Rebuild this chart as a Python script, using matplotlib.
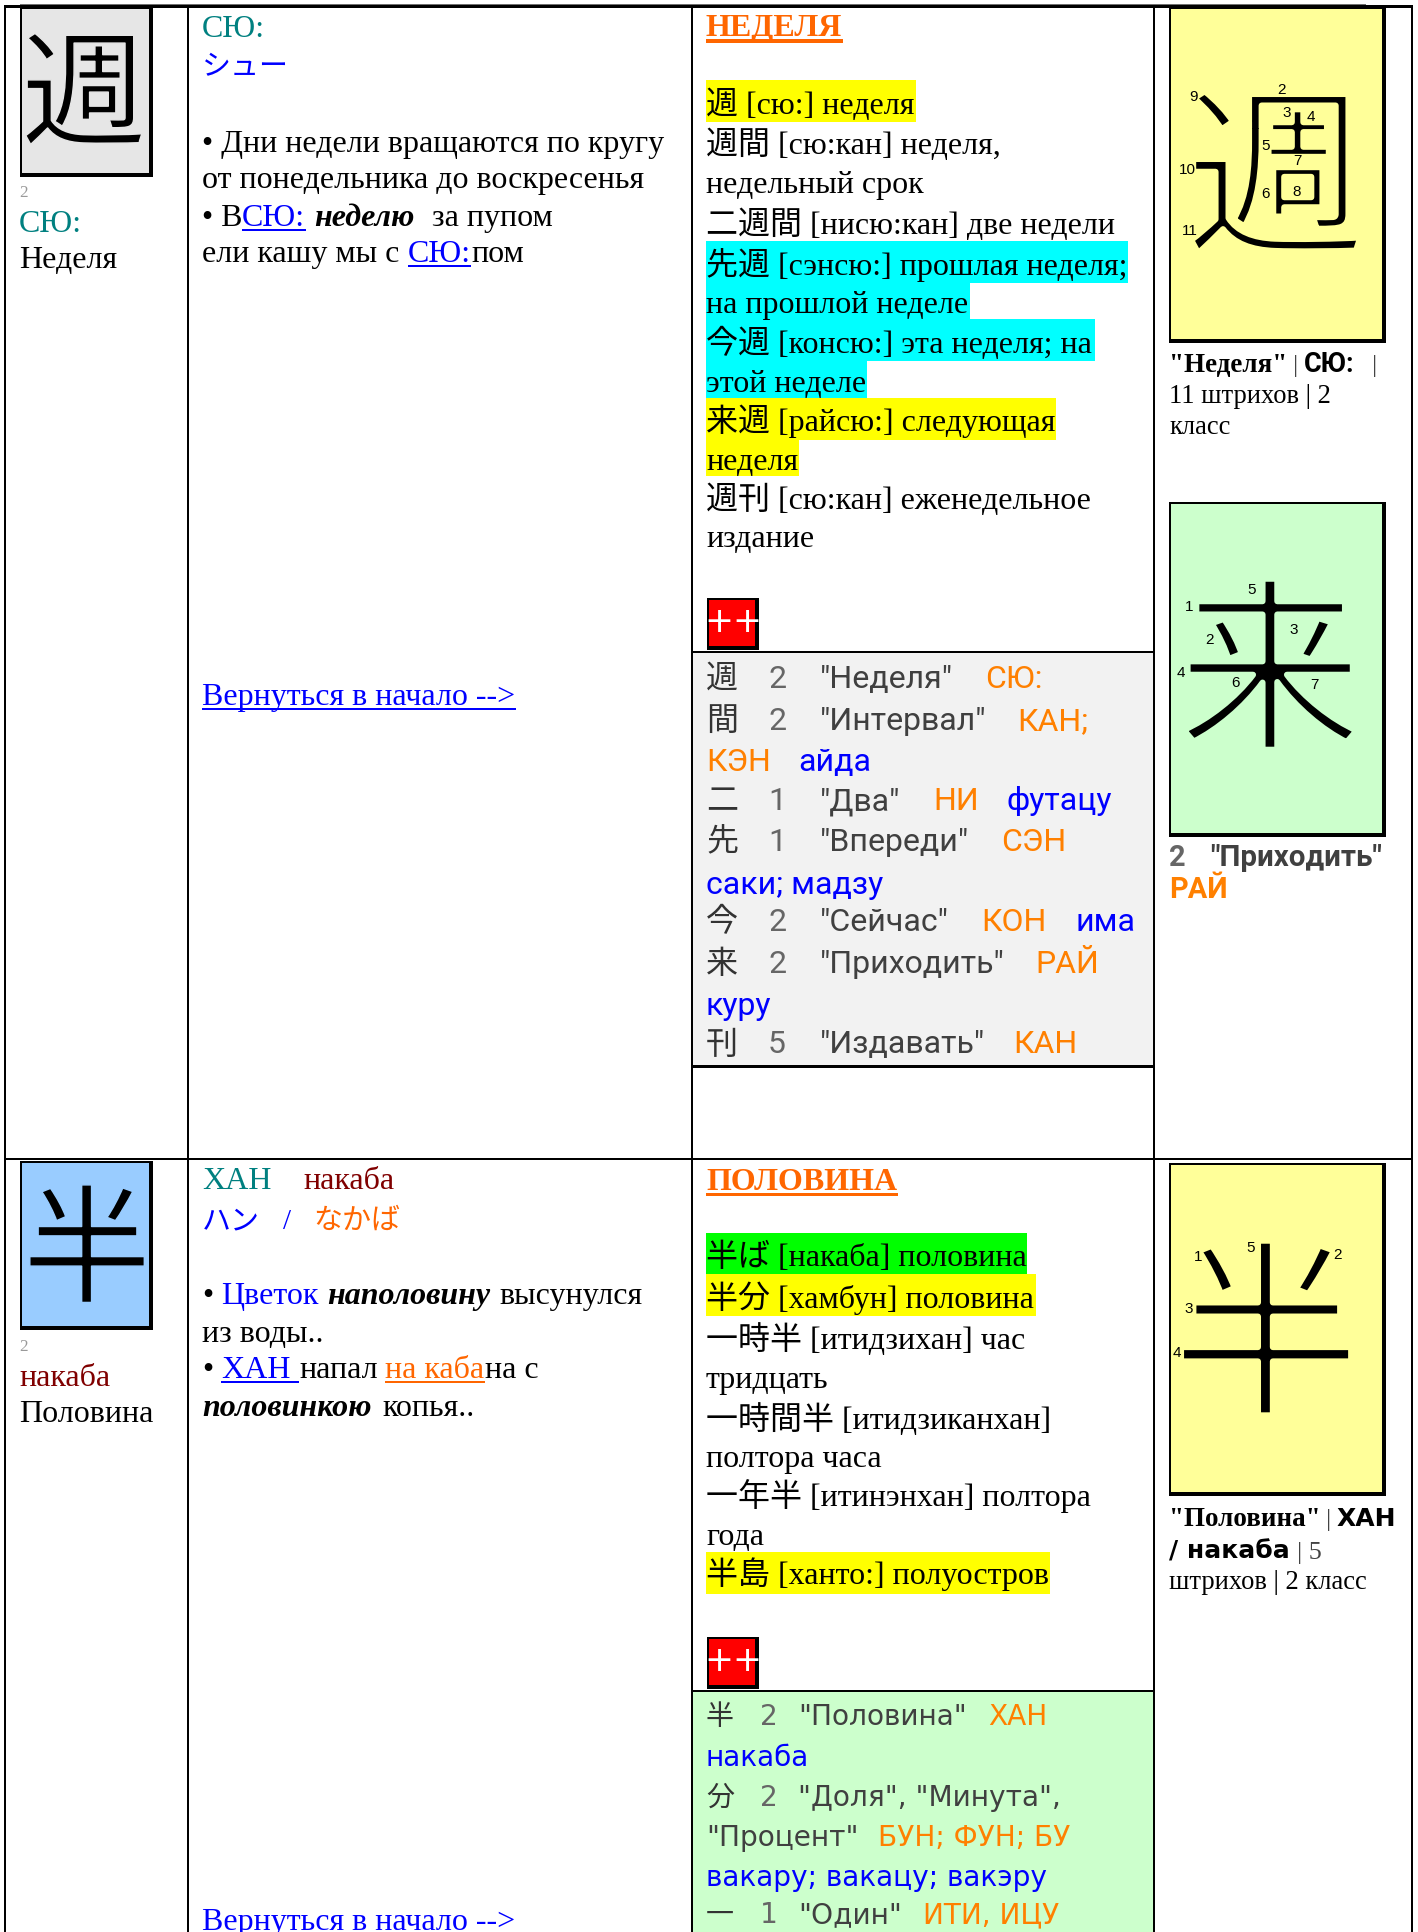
import matplotlib
matplotlib.use("Agg")
import matplotlib.pyplot as plt
import matplotlib.patheffects as pe
from matplotlib.patches import Rectangle

# ------------------------------------------------
# text of the table
# ------------------------------------------------
kanji = ["週", "半"]
big_strokes = ["週", "来", "半"]

stroke_nums_week = ["9", "2", "1", "3", "4", "5", "7", "10", "6", "8", "11"]
stroke_nums_come = ["5", "1", "2", "3", "4", "6", "7"]
stroke_nums_half = ["5", "2", "1", "3", "4"]

vocab_week = [
    "週 [сю:] неделя",
    "週間 [сю:кан] неделя,",
    "недельный срок",
    "二週間 [нисю:кан] две недели",
    "先週 [сэнсю:] прошлая неделя;",
    "на прошлой неделе",
    "今週 [консю:] эта неделя; на",
    "этой неделе",
    "来週 [райсю:] следующая",
    "неделя",
    "週刊 [сю:кан] еженедельное",
    "издание",
]
vocab_half = [
    "半ば [накаба] половина",
    "半分 [хамбун] половина",
    "一時半 [итидзихан] час",
    "тридцать",
    "一時間半 [итидзиканхан]",
    "полтора часа",
    "一年半 [итинэнхан] полтора",
    "года",
    "半島 [ханто:] полуостров",
]

week_chars = ["週", "間", "二", "先", "今", "来", "刊"]
week_grades = ["2", "2", "1", "1", "2", "2", "5"]
week_means = ['"Неделя"', '"Интервал"', '"Два"', '"Впереди"', '"Сейчас"', '"Приходить"', '"Издавать"']
week_on = ["СЮ:", "КАН;", "НИ", "СЭН", "КОН", "РАЙ", "КАН"]

# ------------------------------------------------
# helpers, everything is in reference pixels
# ------------------------------------------------
SERIF = ["Liberation Serif", "Noto Sans CJK JP"]
SANS = ["Roboto", "Noto Sans CJK JP"]
WIDE = ["DejaVu Sans", "Noto Sans CJK JP"]
ORANGE = "#ff6600"
TABLE_ORANGE = "#ff8000"
BLUE = "#0000ff"
TEAL = "#008080"
MAROON = "#800000"

fig = plt.figure(figsize=(14.18, 19.33), dpi=100)
ax = fig.add_axes([0, 0, 1, 1])
ax.set_xlim(0, 1418)
ax.set_ylim(1933, 0)
ax.axis("off")


def fill(x0, y0, x1, y1, color):
    ax.add_patch(Rectangle((x0, y0), x1 - x0, y1 - y0, facecolor=color, edgecolor="none", lw=0))


def put(x, y, s, size=32, family=SERIF, color="black", **kw):
    ax.text(x, y, s, fontsize=size * 0.72, family=family, color=color, va="baseline", ha="left", **kw)


def link(x, y, s, x1, color=BLUE, thick=2, size=32):
    put(x, y, s, size=size, color=color)
    fill(x, y + 4, x1, y + 4 + thick, color)


def panel(x0, y0, x1, y1, color):
    fill(x0, y0, x1, y1, "black")
    fill(x0 + 2, y0 + 2, x1 - 4, y1 - 4, color)


# the CJK fonts are heavy, so the outline is painted in the card colour to thin them
def glyph(cx, cy, s, size, bg, thin):
    ax.text(cx, cy, s, fontsize=size * 0.72, family=WIDE, color="black", ha="center", va="center",
            path_effects=[pe.Stroke(linewidth=thin * 0.72, foreground=bg)])


# ------------------------------------------------
# cell backgrounds
# ------------------------------------------------
fill(692, 653, 1154, 1068, "#f2f2f2")
fill(692, 1692, 1154, 1933, "#ccffcc")

for x0, x1, y0, y1, c in [
    (706, 916, 81, 122.5, "#ffff00"),
    (706, 1128, 242, 284, "#00ffff"),
    (706, 970, 284, 320, "#00ffff"),
    (706, 1095, 320, 362, "#00ffff"),
    (706, 867, 362, 399, "#00ffff"),
    (706, 1056, 399, 441, "#ffff00"),
    (706, 799, 441, 477, "#ffff00"),
    (706, 1027, 1234, 1275, "#00ff00"),
    (706, 1036, 1275, 1316.5, "#ffff00"),
    (706, 1050, 1552.5, 1594.5, "#ffff00"),
]:
    fill(x0, y0, x1, y1, c)

# grid lines
fill(20, 4.5, 1366, 6, "#707070")
fill(4, 6, 1413, 8.5, "black")
fill(4, 1159, 1413, 1161, "black")
for x in [5, 188, 692, 1154, 1412]:
    fill(x - 1, 6, x + 1, 1933, "black")
fill(692, 652, 1154, 654, "black")
fill(692, 1066, 1154, 1069, "black")
fill(692, 1691, 1154, 1693, "black")

# ------------------------------------------------
# first column
# ------------------------------------------------
panel(20, 8, 153, 178, "#e6e6e6")
glyph(84, 102, kanji[0], 125, "#e6e6e6", 1.5)
put(19, 197, "2", size=17, color="#999999")
put(19, 232, "СЮ:", color=TEAL)
put(19, 268, "Неделя")

panel(20, 1162, 153, 1331, "#99ccff")
glyph(87, 1258, kanji[1], 128, "#99ccff", 1.5)
put(19, 1351, "2", size=17, color="#999999")
put(19, 1386, "накаба", color=MAROON)
put(19, 1422, "Половина")

# ------------------------------------------------
# second column
# ------------------------------------------------
put(202, 37, "СЮ:", color=TEAL)
put(202, 75, "シュー", size=29, color=BLUE)
put(202, 152, "• Дни недели вращаются по кругу")
put(202, 188, "от понедельника до воскресенья")
put(202, 226, "• В")
link(242, 226, "СЮ:", 306)
put(314, 226, "неделю", weight="bold", style="italic")
put(432, 226, "за пупом")
put(202, 262, "ели кашу мы с")
link(408, 262, "СЮ:", 471)
put(471, 262, "пом")
link(202, 705, "Вернуться в начало -->", 516)

put(202, 1189, "ХАН", color=TEAL)
put(303, 1189, "накаба", color=MAROON)
put(202, 1229, "ハン", size=29, color=BLUE)
put(283, 1229, "/", size=29, color=BLUE)
put(313, 1229, "なかば", size=29, color=ORANGE)
put(202, 1304, "•")
put(221, 1304, "Цветок", color=BLUE)
put(327, 1304, "наполовину", weight="bold", style="italic")
put(499, 1304, "высунулся")
put(202, 1342, "из воды..")
put(202, 1378, "•")
link(221, 1378, "ХАН", 299)
put(299, 1378, "напал")
link(385, 1378, "на каба", 485, color=ORANGE)
put(485, 1378, "на с")
put(202, 1416, "половинкою", weight="bold", style="italic")
put(382, 1416, "копья..")
link(202, 1930, "Вернуться в начало -->", 516)

# ------------------------------------------------
# third column, vocabulary
# ------------------------------------------------
put(706, 36, "НЕДЕЛЯ", size=32, color=ORANGE, weight="bold")
fill(706, 40, 843, 43.5, ORANGE)
for s, y in zip(vocab_week, [113.5, 154, 193.5, 233.5, 274.5, 313.5, 353, 392.5, 431, 470.5, 509, 547]):
    put(706, y, s)

put(706, 1190, "ПОЛОВИНА", size=32, color=ORANGE, weight="bold")
fill(706, 1194, 898, 1197, ORANGE)
for s, y in zip(vocab_half, [1266.5, 1308, 1349, 1388, 1429, 1467.5, 1506.5, 1545, 1584]):
    put(706, y, s)

for y0 in [598.5, 1637.5]:
    panel(707, y0, 759, y0 + 52, "#ff0000")
    ax.text(733, y0 + 24, "++", fontsize=25, family=WIDE, color="white", ha="center", va="center")

# ------------------------------------------------
# third column, kanji tables
# ------------------------------------------------
GREY = "#404040"
GRADE = "#666666"
week_on_x = [985, 1017, 933, 1001, 981, 1035, 1013]
week_y = [688, 730, 810.5, 851, 931, 973, 1053.5]
for i in range(len(week_chars)):
    y = week_y[i]
    put(706, y, week_chars[i], size=32, family=SANS, color="#333333")
    put(768, y, week_grades[i], size=32, family=SANS, color=GRADE)
    put(820, y, week_means[i], size=32, family=SANS, color=GREY)
    put(week_on_x[i], y, week_on[i], size=32, family=SANS, color=TABLE_ORANGE)
put(706, 771, "КЭН", family=SANS, color=TABLE_ORANGE)
put(798, 771, "айда", family=SANS, color=BLUE)
put(1007, 810.5, "футацу", family=SANS, color=BLUE)
put(706, 894, "саки; мадзу", family=SANS, color=BLUE)
put(1075, 931, "има", family=SANS, color=BLUE)
put(706, 1015, "куру", family=SANS, color=BLUE)

put(706, 1725, "半", size=28, family=WIDE, color="#333333")
put(760, 1725, "2", size=28, family=WIDE, color=GRADE)
put(798, 1725, '"Половина"', size=28, family=WIDE, color=GREY)
put(988, 1725, "ХАН", size=28, family=WIDE, color=TABLE_ORANGE)
put(706, 1766, "накаба", size=28, family=WIDE, color=BLUE)
put(706, 1806, "分", size=28, family=WIDE, color="#333333")
put(760, 1806, "2", size=28, family=WIDE, color=GRADE)
put(798, 1806, '"Доля", "Минута",', size=28, family=WIDE, color=GREY)
put(706, 1846, '"Процент"', size=28, family=WIDE, color=GREY)
put(878, 1846, "БУН; ФУН; БУ", size=28, family=WIDE, color=TABLE_ORANGE)
put(706, 1886, "вакару; вакацу; вакэру", size=28, family=WIDE, color=BLUE)
put(706, 1923, "一", size=28, family=WIDE, color="#333333")
put(760, 1923, "1", size=28, family=WIDE, color=GRADE)
put(798, 1923, '"Один"', size=28, family=WIDE, color=GREY)
put(923, 1923, "ИТИ, ИЦУ", size=28, family=WIDE, color=TABLE_ORANGE)

# ------------------------------------------------
# fourth column, stroke order cards
# ------------------------------------------------
panel(1169, 8, 1386, 344, "#ffff99")
panel(1169, 503, 1386, 838, "#ccffcc")
panel(1169, 1164, 1386, 1497, "#ffff99")
glyph(1276, 191, big_strokes[0], 182, "#ffff99", 6)
glyph(1270, 685, big_strokes[1], 186, "#ccffcc", 6)
glyph(1266, 1349, big_strokes[2], 190, "#ffff99", 6)

# numbers nudged off the strokes, the glyph shapes differ from the hand drawn ones
for s, x, y in zip(stroke_nums_week,
                   [1193, 1281, 1255, 1287, 1311, 1266, 1297, 1187, 1266, 1296.5, 1189.5],
                   [97, 90, 125, 113, 117, 146, 161, 170, 194, 191.5, 231]):
    ax.text(x, y, s, fontsize=11, family="Liberation Sans", ha="center", va="center")
for s, x, y in zip(stroke_nums_come,
                   [1252, 1189, 1209, 1294, 1181, 1236, 1314],
                   [590, 607, 640, 630, 673, 683, 685]):
    ax.text(x, y, s, fontsize=11, family="Liberation Sans", ha="center", va="center")
for s, x, y in zip(stroke_nums_half,
                   [1251, 1337, 1198, 1189, 1177],
                   [1248, 1255, 1257, 1309, 1353]):
    ax.text(x, y, s, fontsize=11, family="Liberation Sans", ha="center", va="center")

put(1169, 372, '"Неделя"', size=27, weight="bold")
put(1293, 372, "|", size=26, color="#444444")
put(1304, 372, "СЮ:", size=27, family=SANS, weight="bold")
put(1372, 372, "|", size=26, color="#444444")
put(1169, 403, "11 штрихов | 2", size=26.5)
put(1169, 434, "класс", size=26.5)

put(1169, 866, "2", size=29, family=SANS, weight="bold", color=GRADE)
put(1210, 866, '"Приходить"', size=29.5, family=SANS, weight="bold", color=GREY)
put(1169, 898, "РАЙ", size=29, family=SANS, weight="bold", color=TABLE_ORANGE)

put(1169, 1526, '"Половина"', size=27, weight="bold")
put(1326, 1526, "|", size=26, color="#444444")
put(1337, 1526, "ХАН", size=25, family=WIDE, weight="bold")
put(1169, 1559, "/ накаба", size=25, family=WIDE, weight="bold")
put(1297, 1559, "| 5", size=26, color="#444444")
put(1169, 1589, "штрихов | 2 класс", size=26.5)

fig.savefig("out.png", dpi=100)
